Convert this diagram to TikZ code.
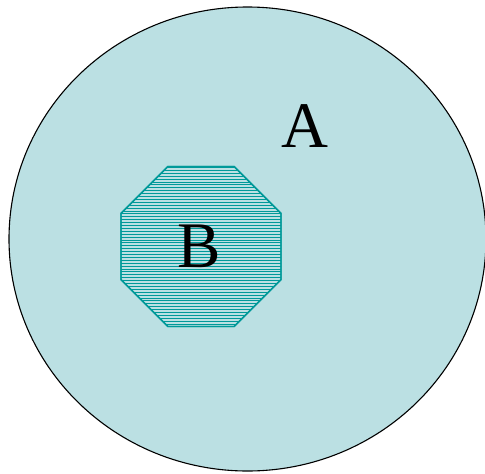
\documentclass[tikz,border=0pt]{standalone}
\usepackage{fontspec}
\setmainfont{Liberation Serif}
\usepackage{xcolor}
\usetikzlibrary{shapes.geometric}
\definecolor{setblue}{RGB}{187,224,227}
\definecolor{setteal}{RGB}{0,153,153}

\begin{document}
\begin{tikzpicture}[x=1pt,y=-1pt]
\tikzset{
  setA/.style={draw=black,line width=1.1pt,fill=setblue,ellipse,inner sep=0pt,outer sep=0pt,minimum width=477pt,minimum height=464pt},
  setB/.style={draw=setteal,line width=1.3pt,fill=setblue,regular polygon,regular polygon sides=8,inner sep=0pt,outer sep=0pt,minimum size=173.2pt},
  hatchline/.style={setteal,line width=0.9pt},
  lbl/.style={font=\fontsize{65}{78}\selectfont,inner sep=0pt}
}
\useasboundingbox (0,0) rectangle (485,474);
% outer set
\node[setA] (circA) at (247.5,239) {};
% inner set with horizontal hatching
\node[setB,path picture={
  \foreach \k in {0,...,56}
    \draw[hatchline] ([yshift=-\k*2.9pt-1pt]path picture bounding box.north west) -- ([yshift=-\k*2.9pt-1pt]path picture bounding box.north east);
}] (octB) at (201,246.5) {};
\node[setB,fill=none] at (octB) {};
% labels
\node[lbl] (labA) at (305,126.5) {A};
\node[lbl] (labB) at (199,246) {B};
\end{tikzpicture}
\end{document}
